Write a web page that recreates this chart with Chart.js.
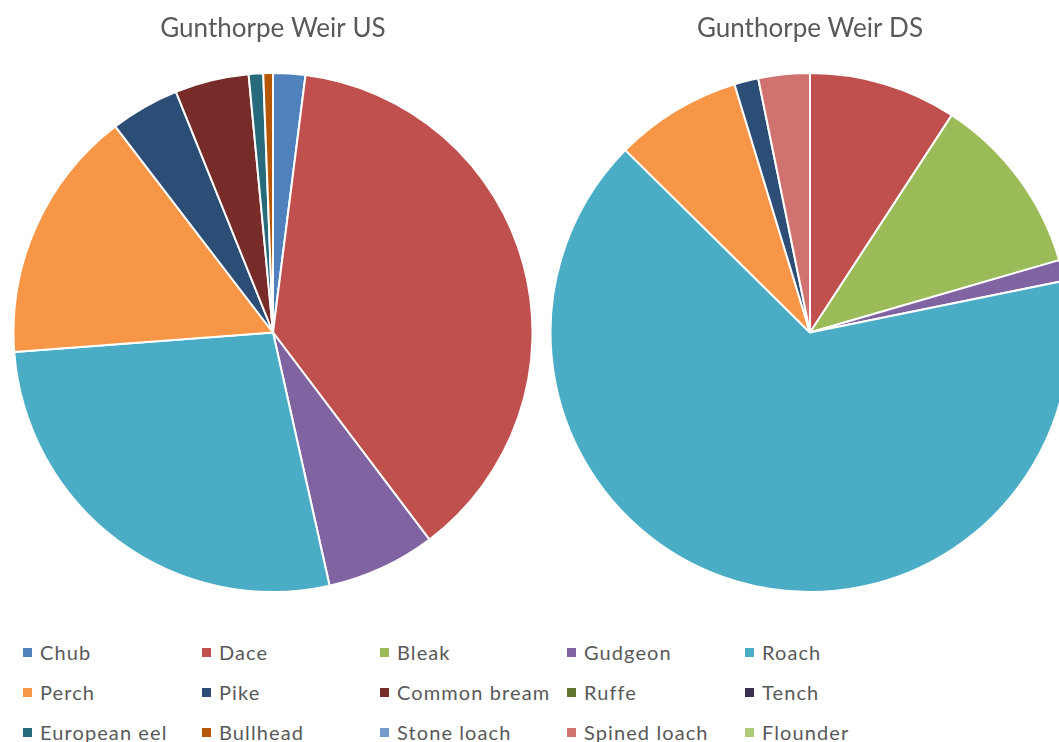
<!DOCTYPE html>
<html><head><meta charset="utf-8">
<script src="https://cdn.jsdelivr.net/npm/chart.js@4"></script>
<style>
html,body{margin:0;padding:0;background:#fff;overflow:hidden;width:1059px;height:742px;}
#wrap{position:relative;width:1059px;height:742px;overflow:hidden;background:#fff;}
.pie{position:absolute;top:0;}
.li{position:absolute;font-family:Lato,"Open Sans",sans-serif;font-size:20px;letter-spacing:1.1px;color:#595959;white-space:nowrap;line-height:20px;height:20px;}
.sw{position:absolute;width:9px;height:9px;}
</style></head><body>
<div id="wrap">
<div class="pie" style="left:12px;width:522px;height:593px"><canvas id="c1" width="522" height="593"></canvas></div>
<div class="pie" style="left:549px;width:522px;height:593px"><canvas id="c2" width="522" height="593"></canvas></div>
<div id="legend"></div>
</div>
<script>
const species = ['Chub','Dace','Bleak','Gudgeon','Roach','Perch','Pike','Common bream','Ruffe','Tench','European eel','Bullhead','Stone loach','Spined loach','Flounder'];
const colors = ['#4F81BD','#C0504D','#9BBB59','#8064A2','#4BACC6','#F79646','#2C4D75','#772C2A','#5F7530','#3A2F52','#276A7C','#B65708','#729ACA','#D07370','#AFC97A'];
// percentage composition
const usValues = [2.0, 37.7, 0, 6.8, 27.3, 15.8, 4.3, 4.6, 0, 0, 0.9, 0.6, 0, 0, 0];
const dsValues = [0, 9.2, 11.3, 1.3, 65.6, 7.9, 1.5, 0, 0, 0, 0, 0, 0, 3.2, 0];
const titles = ['Gunthorpe Weir US', 'Gunthorpe Weir DS'];

// legend layout (style only)
const legendCols = [23, 202, 380, 567, 745];
const legendRows = [652, 692, 732];

function makePie(id, values, title) {
  new Chart(document.getElementById(id), {
    type: 'pie',
    data: {
      labels: species,
      datasets: [{
        data: values,
        backgroundColor: colors,
        borderColor: '#ffffff',
        borderWidth: 2
      }]
    },
    options: {
      responsive: false,
      animation: false,
      layout: { padding: 0 },
      plugins: {
        legend: { display: false },
        tooltip: { enabled: false },
        title: {
          display: true,
          text: title,
          color: '#595959',
          font: { family: 'Lato', size: 26, weight: 'normal', lineHeight: 1.2 },
          padding: { top: 13, bottom: 27.8 }
        }
      }
    }
  });
}
makePie('c1', usValues, titles[0]);
makePie('c2', dsValues, titles[1]);

const leg = document.getElementById('legend');
species.forEach((s, i) => {
  const col = i % 5, row = Math.floor(i / 5);
  const x = legendCols[col], y = legendRows[row];
  const sw = document.createElement('div');
  sw.className = 'sw';
  sw.style.left = x + 'px';
  sw.style.top = (y - 4.5) + 'px';
  sw.style.background = colors[i];
  leg.appendChild(sw);
  const t = document.createElement('div');
  t.className = 'li';
  t.textContent = s;
  t.style.left = (x + 17) + 'px';
  t.style.top = (y - 10) + 'px';
  leg.appendChild(t);
});
</script>
</body></html>
